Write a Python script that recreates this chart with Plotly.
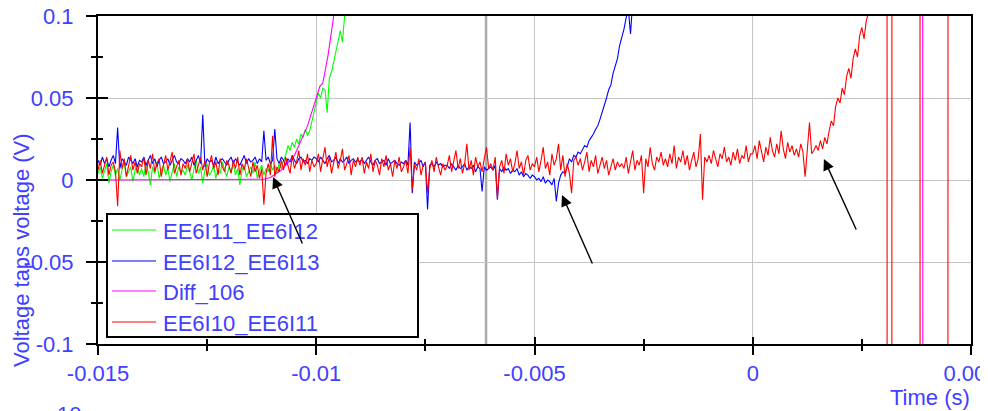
import numpy as np
import plotly.graph_objects as go

# ---------------- data (voltages in mV, sampled every 50 us from -15 ms) ----------------
t_start = -0.015
dt = 0.00005

series_names = ["EE6I11_EE6I12", "EE6I12_EE6I13", "Diff_106", "EE6I10_EE6I11"]
series_colors = ["#00ff00", "#0000ff", "#ff00ff", "#ff0000"]

green_mV = [
    4, 8, 1, 6, 10, -2, 5, 9, 3, 7, 0, 6, 11, 2, 5, 8, -1, 6, 9, 3,
    7, 2, 10, 5, -3, 8, 4, 11, 1, 6, 9, 3, 7, -1, 5, 10, 2, 8, 4, 6,
    3, 9, 5, 0, 7, 12, 4, 8, -2, 6, 10, 3, 5, 9, 1, 7, 4, 11, 6, 2,
    8, 5, 10, 3, 7, -3, 6, 9, 2, 5, 8, 4, 11, 1, 6, 9, 3, 7, 5, 10,
    6, 9, 4, 10, 7, 12, 15, 21, 18, 23, 20, 25, 22, 28, 26, 31, 27, 30, 36, 43,
    48, 53, 50, 56, 55, 41, 62, 66, 72, 78, 85, 91, 84, 100, 106, 120,
]

blue_mV = [
    12, 9, 14, 10, 13, 8, 12, 15, 10, 32, 7, 13, 11, 9, 14, 12, 10, 13, 8, 12,
    11, 14, 9, 12, 15, 10, 13, 8, 12, 14, 10, 11, 13, 9, 12, 15, 11, 10, 13, 12,
    10, 13, 11, 14, 9, 12, 15, 10, 40, 8, 13, 11, 12, 9, 14, 10, 12, 13, 11, 9,
    12, 14, 10, 13, 11, 9, 12, 15, 10, 13, 11, 12, 14, 10, 13, 11, 30, 12, 14, 10,
    12, 31, 13, 10, 14, 12, 9, 13, 11, 15, 12, 10, 13, 14, 11, 12, 10, 13, 12, 14,
    13, 11, 14, 12, 10, 13, 15, 11, 12, 14, 10, 13, 11, 12, 14, 10, 12, 13, 11, 12,
    11, 13, 10, 12, 14, 11, 9, 12, 13, 10, 11, 12, 9, 13, 10, 11, 12, 10, 9, 11,
    10, 12, 9, 35, -8, 11, 9, 10, 12, 8, 11, -18, 9, 10, 8, 11, 9, 10, 8, 9,
    9, 7, 10, 8, 6, 9, 7, 8, 10, 6, 8, 7, 9, 5, 8, 7, -7, 8, 6, 7,
    8, 6, 9, -12, 7, 5, 8, 6, 7, 4, 6, 5, 7, 3, 5, 2, 4, 3, 1, 3,
    2, 0, 1, -1, 2, -2, 0, -1, -3, 1, -13, -2, 3, 5, 4, 8, 13, 11, 15, 14,
    17, 16, 19, 21, 20, 24, 26, 28, 31, 33, 37, 41, 45, 50, 55, 58, 65, 69, 74, 82,
    87, 92, 99, 104, 89, 112, 130,
]

diff_t = [-0.015, -0.0112, -0.01105, -0.0108, -0.0105, -0.0102, -0.0100, -0.00992,
          -0.00985, -0.00973, -0.00960, -0.0094, -0.0090, 0.00389, 0.00390, 0.005]
diff_mV = [0, 0.5, 1.5, 6, 15, 33, 50, 57, 59, 76, 100, 150, 300, 300, -300, -300]

red_mV = [
    6, 12, 4, 10, 14, 3, 9, 11, 5, -16, 18, 7, 13, 2, 9, 15, 6, 11, 4, 10,
    8, 14, 3, 12, 7, 16, 5, 10, 13, 2, 9, 15, 6, 11, 17, 4, 8, 12, 3, 10,
    7, 13, 5, 11, 16, 4, 9, 14, 6, 12, 2, 10, 15, 7, 11, 3, 13, 8, 5, 12,
    9, 4, 12, 7, 14, 3, 10, 6, 13, 8, 2, 11, 5, 9, 1, 7, -15, 4, 10, 3,
    27, 2, 8, 5, 12, 6, 14, 9, 4, 15, 7, 11, 18, 6, 13, 9, 16, 5, 12, 8,
    10, 16, 5, 13, 20, 8, 14, 4, 11, 17, 7, 12, 19, 6, 10, 15, 3, 12, 8, 14,
    9, 14, 4, 11, 7, 16, 5, 12, 9, 3, 13, 8, 15, 6, 10, 2, 12, 7, 14, 5,
    8, 12, 4, 20, -6, 10, 6, 13, 3, 9, 11, -8, 7, 12, 5, 14, 8, 3, 10, 6,
    9, 15, 5, 11, 18, 7, 13, 4, 10, 22, 6, 12, 3, 14, 8, 11, 5, 13, 20, 7,
    10, 6, 14, -11, 8, 12, 4, 16, 9, 13, 5, 10, 18, 7, 11, 3, 12, 15, 6, 10,
    8, 14, 5, 12, 20, 7, 11, 3, 16, 9, 13, 22, 6, 15, 2, 10, 4, -8, 12, 14,
    9, 13, 6, 11, 17, 5, 12, 8, 15, 4, 10, 14, 7, 12, 3, 9, 13, 6, 11, 8,
    10, 7, 14, 4, 11, 18, 6, 12, 9, 15, -8, 13, 8, 20, 10, 6, 14, 11, 17, 9,
    13, 8, 16, 10, 21, 7, 14, 11, 18, 9, 15, 6, 12, 17, 8, 13, 28, -12, 14, 11,
    15, 10, 18, 12, 8, 16, 13, 20, 11, 14, 9, 17, 12, 19, 10, 15, 13, 21, 11, 16,
    16, 21, 13, 24, 17, 11, 20, 15, 26, 18, 14, 22, 16, 30, 19, 13, 23, 17, 21, 15,
    19, 14, 22, 17, 2, 20, 35, 16, 18, 21,
    18, 24, 19, 26, 22, 30, 36, 33, 45, 50, 47, 56, 52, 63, 68, 62, 74, 80, 75, 88,
    93, 86, 97, 102, 110, 120,
]
red_tail_t = [0.00280, 0.00285, 0.00290, 0.00300, 0.003075, 0.003080, 0.003185, 0.003190,
              0.003830, 0.003835, 0.004470, 0.004475, 0.005]
red_tail_mV = [150, 260, 400, 480, 480, -480, -470, 470, 460, -460, -450, 450, 450]

x_tick_vals = [-0.015, -0.01, -0.005, 0, 0.005]
x_tick_text = ["-0.015", "-0.01", "-0.005", "0", "0.005"]
y_tick_vals = [-0.1, -0.05, 0, 0.05, 0.1]
y_tick_text = ["-0.1", "-0.05", "0", "0.05", "0.1"]

# arrows: (tip time, tip voltage, tail offset px)
arrow_tips_t = [-0.01099, -0.00437, 0.00163]
arrow_tips_v = [0.0018, -0.0091, 0.0128]
arrow_ax = [30, 31, 33]
arrow_ay = [68, 70, 72]

cursor_t = -0.00611

# ---------------- build ----------------
def grid_time(n):
    return t_start + dt * np.arange(n)

green_t = grid_time(len(green_mV))
blue_t = grid_time(len(blue_mV))
red_t = np.concatenate([grid_time(len(red_mV)), np.array(red_tail_t)])
red_v = np.concatenate([np.array(red_mV), np.array(red_tail_mV)]) / 1000.0

xs = [green_t, blue_t, np.array(diff_t), red_t]
ys = [np.array(green_mV) / 1000.0, np.array(blue_mV) / 1000.0, np.array(diff_mV) / 1000.0, red_v]

FONT = "Liberation Sans, Arial, sans-serif"
BLUE_TXT = "#4040ff"

# page body has an 8px margin: figure sits at (8, 8) in the window
W, H = 980, 403
L, T, R, B = 90, 8, 17, 67

fig = go.Figure()
for x, y, nm, c in zip(xs, ys, series_names, series_colors):
    fig.add_trace(go.Scatter(x=x, y=y, mode="lines", name=nm,
                             line=dict(color=c, width=1.1), showlegend=False))
# empty trace for the overlaid tick-only axes
fig.add_trace(go.Scatter(x=[], y=[], xaxis="x2", yaxis="y2", showlegend=False))

eps = 1e-9
xr = [-0.015 - eps, 0.005 + eps]
yr = [-0.1 - 1e-7, 0.1 + 1e-7]

fig.update_layout(
    width=W, height=H,
    margin=dict(l=L, r=R, t=T, b=B, autoexpand=False),
    paper_bgcolor="white", plot_bgcolor="white",
    showlegend=False,
    font=dict(family=FONT, size=22, color=BLUE_TXT),
    xaxis=dict(range=xr, tickmode="array", tickvals=x_tick_vals, ticktext=x_tick_text,
               automargin=False, ticklabeloverflow="allow",
               ticks="outside", ticklen=9, tickwidth=1.5, tickcolor="black",
               showline=True, linecolor="black", linewidth=2, mirror=True,
               showgrid=True, gridcolor="#c4c4c4", gridwidth=1, zeroline=False,
               tickfont=dict(size=22, color=BLUE_TXT),
               minor=dict(tickmode="linear", tick0=-0.015, dtick=0.0025,
                          ticks="outside", ticklen=5, tickwidth=1.5, tickcolor="black",
                          showgrid=False)),
    yaxis=dict(range=yr, tickmode="array", tickvals=y_tick_vals, ticktext=y_tick_text,
               automargin=False, ticklabeloverflow="allow",
               ticks="outside", ticklen=10, tickwidth=1.5, tickcolor="black",
               showline=True, linecolor="black", linewidth=2, mirror=True,
               showgrid=True, gridcolor="#c4c4c4", gridwidth=1, zeroline=False,
               tickfont=dict(size=22, color=BLUE_TXT), ticklabelstandoff=8,
               minor=dict(tickmode="linear", tick0=-0.1, dtick=0.025,
                          ticks="outside", ticklen=5, tickwidth=1.5, tickcolor="black",
                          showgrid=False)),
    xaxis2=dict(overlaying="x", anchor="y2", range=xr, tickmode="array", tickvals=x_tick_vals,
                automargin=False,
                ticks="inside", ticklen=7, tickwidth=1.5, tickcolor="black",
                showticklabels=False, showgrid=False, zeroline=False, showline=False,
                minor=dict(tickmode="linear", tick0=-0.015, dtick=0.0025,
                           ticks="inside", ticklen=5, tickwidth=1.5, tickcolor="black")),
    yaxis2=dict(overlaying="y", anchor="x2", range=yr, tickmode="array", tickvals=y_tick_vals,
                automargin=False,
                ticks="inside", ticklen=10, tickwidth=1.5, tickcolor="black",
                showticklabels=False, showgrid=False, zeroline=False, showline=False,
                minor=dict(tickmode="linear", tick0=-0.1, dtick=0.025,
                           ticks="inside", ticklen=5, tickwidth=1.5, tickcolor="black")),
)

# cursor line
fig.add_shape(type="line", xref="x", yref="paper", x0=cursor_t, x1=cursor_t, y0=0, y1=1,
              line=dict(color="#aaaaaa", width=2.5), layer="below")

# legend (box, samples, labels) -- positions given in window pixels
PW = W - L - R
PH = H - T - B

def px_x(p):
    return (p - 8 - L) / PW

def px_y(p):
    return (H - B + 8 - p) / PH

fig.add_shape(type="rect", xref="paper", yref="paper",
              x0=px_x(107), x1=px_x(418), y0=px_y(337), y1=px_y(214),
              fillcolor="white", line=dict(color="black", width=2), layer="above")
rows = [230, 261, 291, 322]
for r, nm, c in zip(rows, series_names, series_colors):
    fig.add_shape(type="line", xref="paper", yref="paper",
                  x0=px_x(112), x1=px_x(156), y0=px_y(r), y1=px_y(r),
                  line=dict(color=c, width=1.2), layer="above")
    fig.add_annotation(xref="paper", yref="paper", x=px_x(161), y=px_y(r + 1),
                       xanchor="left", yanchor="middle", text=nm, showarrow=False,
                       font=dict(family=FONT, size=22, color=BLUE_TXT))

# arrows
for tx, tv, ax, ay in zip(arrow_tips_t, arrow_tips_v, arrow_ax, arrow_ay):
    fig.add_annotation(x=tx, y=tv, xref="x", yref="y", ax=ax, ay=ay, text="",
                       showarrow=True, arrowhead=2, arrowsize=1.6, arrowwidth=1.4,
                       arrowcolor="black", standoff=0)

# axis titles and stray label
fig.add_annotation(xref="paper", yref="paper", x=px_x(21), y=px_y(250), text="Voltage taps voltage (V)",
                   textangle=-90, showarrow=False, xanchor="center", yanchor="middle",
                   font=dict(family=FONT, size=22, color=BLUE_TXT))
fig.add_annotation(xref="paper", yref="paper", x=px_x(972), y=px_y(397), text="Time (s)",
                   showarrow=False, xanchor="right", yanchor="middle",
                   font=dict(family=FONT, size=22, color=BLUE_TXT))
fig.add_annotation(xref="paper", yref="paper", x=px_x(68.5), y=px_y(400), text="10",
                   showarrow=False, xanchor="center", yanchor="top",
                   font=dict(family=FONT, size=22, color=BLUE_TXT))

fig.write_html("out.html")
